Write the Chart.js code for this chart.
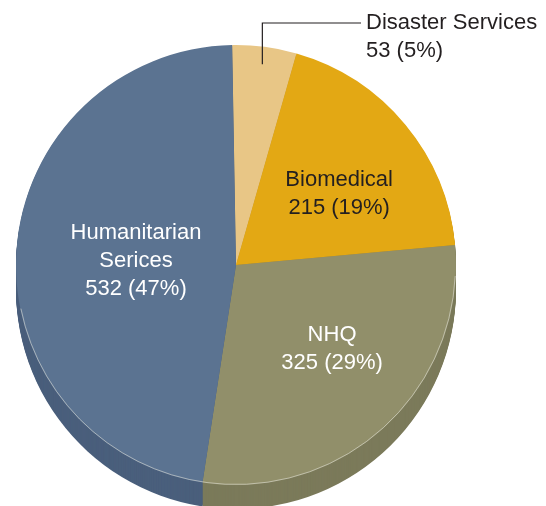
<!DOCTYPE html>
<html>
<head>
<meta charset="utf-8">
<script src="https://cdn.jsdelivr.net/npm/chart.js@4"></script>
<style>
  html, body { margin: 0; padding: 0; background: #fff; }
  #wrap { width: 546px; height: 506px; }
</style>
</head>
<body>
<div id="wrap"><canvas id="grafico" width="546" height="506"></canvas></div>
<script>
// dados do gráfico (ordem horária a partir do topo)
const categorias = ['Disaster Services', 'Biomedical', 'NHQ', 'Humanitarian Serices'];
const valores = [53, 215, 325, 532];
const percentuais = [5, 19, 29, 47];
// linhas de texto de cada rótulo
const rotulos = [
    ['Disaster Services'],
    ['Biomedical'],
    ['NHQ'],
    ['Humanitarian', 'Serices']
];

const coresTopo = ['#e8c686', '#e3a814', '#918f6a', '#5b7391'];
const coresLado = ['#c4a66e', '#bf8d10', '#7b7a5a', '#4a5f7c'];
const coresTexto = ['#231f20', '#231f20', '#ffffff', '#ffffff'];

const FONTE = '22px "Liberation Sans", Arial, Helvetica, sans-serif';
const PROFUNDIDADE = 24;

// posição dos rótulos dentro das fatias (fração do raio, desvio de ângulo em graus)
const posRotulo = [null, { r: 0.57, a: 5 }, { r: 0.58, a: -5.6 }, { r: 0.455, a: -1.8 }];

// desenha a lateral "3D" da pizza, antes das fatias
const lateral3d = {
    id: 'lateral3d',
    beforeDatasetsDraw(chart) {
        const ctx = chart.ctx;
        const arcos = chart.getDatasetMeta(0).data;
        ctx.save();
        for (let d = PROFUNDIDADE; d >= 1; d--) {
            arcos.forEach((arco, i) => {
                const p = arco.getProps(['x', 'y', 'startAngle', 'endAngle', 'outerRadius']);
                ctx.beginPath();
                ctx.moveTo(p.x, p.y + d);
                ctx.arc(p.x, p.y + d, p.outerRadius, p.startAngle, p.endAngle);
                ctx.closePath();
                ctx.fillStyle = coresLado[i];
                ctx.fill();
            });
        }
        ctx.restore();
    },
    afterDatasetsDraw(chart) {
        const ctx = chart.ctx;
        const arcos = chart.getDatasetMeta(0).data;
        const p0 = arcos[0].getProps(['x', 'y', 'outerRadius']);
        ctx.save();
        // linha clara na borda do topo
        ctx.beginPath();
        ctx.arc(p0.x, p0.y, p0.outerRadius - 0.5, 0.05, Math.PI - 0.2);
        ctx.strokeStyle = 'rgba(230,230,220,0.7)';
        ctx.lineWidth = 0.8;
        ctx.stroke();

        ctx.font = FONTE;
        ctx.textBaseline = 'middle';
        arcos.forEach((arco, i) => {
            const p = arco.getProps(['x', 'y', 'startAngle', 'endAngle', 'outerRadius']);
            const linhas = rotulos[i].concat([valores[i] + ' (' + percentuais[i] + '%)']);
            ctx.fillStyle = coresTexto[i];
            if (posRotulo[i] === null) {
                // rótulo externo com linha de chamada
                const meio = (p.startAngle + p.endAngle) / 2;
                const x0 = p.x + Math.cos(meio) * p.outerRadius * 0.92;
                const y0 = p.y + Math.sin(meio) * p.outerRadius * 0.92;
                ctx.beginPath();
                ctx.moveTo(x0, y0);
                ctx.lineTo(x0, 23);
                ctx.lineTo(361, 23);
                ctx.strokeStyle = '#231f20';
                ctx.lineWidth = 1.2;
                ctx.stroke();
                ctx.textAlign = 'left';
                linhas.forEach((t, k) => ctx.fillText(t, 366, 23 + k * 28));
                return;
            }
            const meio = (p.startAngle + p.endAngle) / 2 + posRotulo[i].a * Math.PI / 180;
            const r = p.outerRadius * posRotulo[i].r;
            const cx = p.x + Math.cos(meio) * r;
            const cy = p.y + Math.sin(meio) * r;
            const alt = 28;
            const topo = cy - (linhas.length - 1) * alt / 2;
            ctx.textAlign = 'center';
            linhas.forEach((t, k) => ctx.fillText(t, cx, topo + k * alt));
        });
        ctx.restore();
    }
};

const ctx = document.getElementById('grafico').getContext('2d');
const grafico = new Chart(ctx, {
    type: 'pie',
    data: {
        labels: categorias,
        datasets: [{
            data: valores,
            backgroundColor: coresTopo,
            borderWidth: 0
        }]
    },
    options: {
        responsive: false,
        animation: false,
        rotation: -1,
        layout: { padding: { left: 16, right: 90, top: 45, bottom: 21 } },
        plugins: {
            legend: { display: false },
            tooltip: { enabled: false }
        }
    },
    plugins: [lateral3d]
});
</script>
</body>
</html>
